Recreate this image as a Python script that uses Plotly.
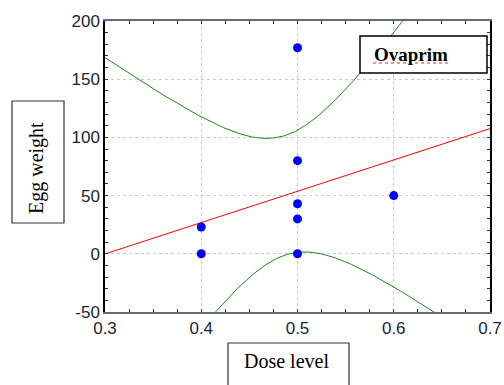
import numpy as np
import plotly.graph_objects as go

# Data
dose = [0.4, 0.4, 0.5, 0.5, 0.5, 0.5, 0.5, 0.6]
egg_weight = [23, 0, 177, 80, 43, 30, 0, 50]

x_ticks = [0.3, 0.4, 0.5, 0.6, 0.7]
y_ticks = [-50, 0, 50, 100, 150, 200]

# Linear regression with 95% confidence band for the mean (derived from data)
xa = np.array(dose, dtype=float)
ya = np.array(egg_weight, dtype=float)
n = len(xa)
b, a = np.polyfit(xa, ya, 1)
resid = ya - (a + b * xa)
s = np.sqrt(np.sum(resid ** 2) / (n - 2))
sxx = np.sum((xa - xa.mean()) ** 2)
t_crit = 2.447  # t(0.975, df=6)
xg = np.linspace(0.3, 0.7, 401)
fit = a + b * xg
half = t_crit * s * np.sqrt(1.0 / n + (xg - xa.mean()) ** 2 / sxx)
upper = fit + half
lower = fit - half

fig = go.Figure()
fig.add_trace(go.Scatter(x=xg, y=upper, mode="lines",
                         line=dict(color="#1a8a1a", width=1), hoverinfo="skip"))
fig.add_trace(go.Scatter(x=xg, y=lower, mode="lines",
                         line=dict(color="#1a8a1a", width=1), hoverinfo="skip"))
fig.add_trace(go.Scatter(x=xg, y=fit, mode="lines",
                         line=dict(color="#ff0000", width=1), hoverinfo="skip"))
fig.add_trace(go.Scatter(x=dose, y=egg_weight, mode="markers",
                         marker=dict(color="#0000ff", size=9), cliponaxis=True))

tick_font = dict(family="Liberation Sans, Arial", size=17, color="#1c2333")

fig.update_xaxes(range=[0.3, 0.7], tickvals=x_ticks, ticktext=[str(v) for v in x_ticks],
                 showline=True, linecolor="#6a6a6a", linewidth=2, mirror="allticks",
                 ticks="inside", ticklen=3, tickcolor="#333", tickfont=tick_font,
                 showgrid=True, gridcolor="#c8c8c8", griddash="dot", gridwidth=1,
                 zeroline=False, automargin=False,
                 minor=dict(dtick=0.025, ticks="inside", ticklen=3, tickcolor="#333", showgrid=False))
fig.update_yaxes(range=[-50, 200], tickvals=y_ticks, ticktext=[str(v) for v in y_ticks],
                 showline=True, linecolor="#000000", linewidth=1.5, mirror="allticks",
                 ticks="inside", ticklen=3, tickcolor="#333", tickfont=tick_font,
                 showgrid=True, gridcolor="#c8c8c8", griddash="dot", gridwidth=1,
                 zeroline=False, automargin=False,
                 minor=dict(dtick=10, ticks="inside", ticklen=3, tickcolor="#333", showgrid=False))

W, H = 504, 385
L, R, T, B = 105, 14, 21, 73
pw, ph = W - L - R, H - T - B


def px(xp):
    return (xp - L) / pw


def py(yp):
    return (H - B - yp) / ph


shapes = [
    dict(type="rect", xref="paper", yref="paper", x0=px(360), x1=px(487), y0=py(73), y1=py(36),
         line=dict(color="black", width=1.5), fillcolor="white", layer="above"),
    dict(type="rect", xref="paper", yref="paper", x0=px(12), x1=px(64), y0=py(223), y1=py(101),
         line=dict(color="#333", width=1.2), fillcolor="white"),
    dict(type="rect", xref="paper", yref="paper", x0=px(228), x1=px(349), y0=py(395), y1=py(343),
         line=dict(color="#333", width=1.2), fillcolor="white"),
    dict(type="line", xref="paper", yref="paper", x0=px(373), x1=px(448), y0=py(63), y1=py(63),
         line=dict(color="#e03030", width=1, dash="dot"), layer="above"),
]

serif = "Liberation Serif, Times New Roman"
annotations = [
    dict(text="<b>Ovaprim</b>", xref="paper", yref="paper", x=px(411), y=py(54),
         xanchor="center", yanchor="middle",
         showarrow=False, font=dict(family=serif, size=19, color="black")),
    dict(text="Egg weight", xref="paper", yref="paper", x=px(36), y=py(168), textangle=-90,
         xanchor="center", yanchor="middle",
         showarrow=False, font=dict(family=serif, size=20, color="black")),
    dict(text="Dose level", xref="paper", yref="paper", x=px(286), y=py(361),
         xanchor="center", yanchor="middle",
         showarrow=False, font=dict(family=serif, size=20, color="black")),
]

fig.update_layout(width=W, height=H,
                  margin=dict(l=L, r=R, t=T, b=B, autoexpand=False),
                  paper_bgcolor="white", plot_bgcolor="white", showlegend=False,
                  shapes=shapes, annotations=annotations)

fig.write_html("out.html", config={"displayModeBar": False, "responsive": False})

# remove default page margin so the figure sits at the window's corner
with open("out.html", "r", encoding="utf-8") as f:
    html = f.read()
html = html.replace("<body>", '<body style="margin:0;padding:0;overflow:hidden">', 1)
html = html.replace("<head>", "<head><style>html,body{margin:0;padding:0;}</style>", 1)
with open("out.html", "w", encoding="utf-8") as f:
    f.write(html)
